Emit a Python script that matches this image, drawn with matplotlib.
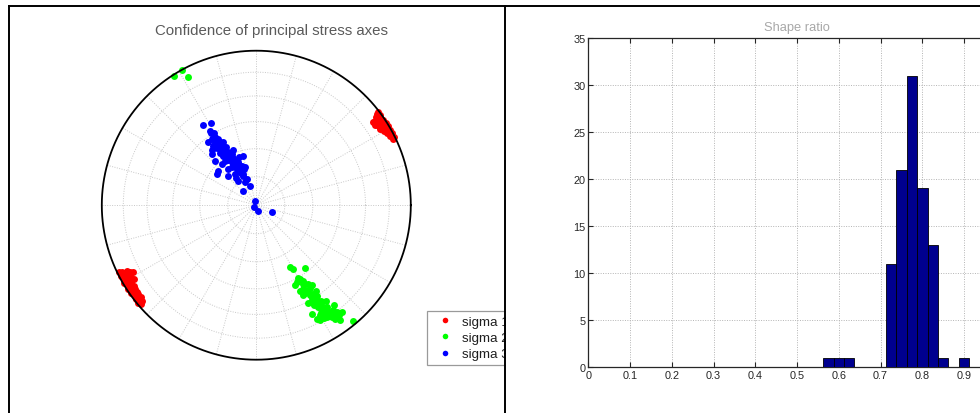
import numpy as np
import matplotlib
matplotlib.use("Agg")
import matplotlib.pyplot as plt
from matplotlib.lines import Line2D
from matplotlib.patches import Rectangle

plt.rcParams['font.family'] = ['Liberation Sans', 'DejaVu Sans']

# ---- principal stress axes (trend, plunge in degrees) ----
sigma1_trend = [52.5, 53, 53.5, 54, 54.5, 54.5, 55, 55.5, 56, 56, 56.5, 57, 57.5, 57.5,
                58, 58.4, 59, 59, 59.6, 60, 60.5, 61, 61.5, 62, 62.5, 63, 63.5, 64,
                244, 243.5, 243, 242.5, 242, 241.5, 241.5, 241, 240.5, 240, 239.5, 239,
                239, 238.5, 238, 237.5, 237, 236.5, 236, 235.5, 235, 234.5, 234, 233.5,
                233, 232, 231.5, 231, 230.5, 230, 229.5]
sigma1_plunge = [0.5, 2.5, 4.5, 1, 6.5, 8.2, 3, 5.5, 8.3, 1.5, 7, 4, 0.5, 6,
                 2.5, 6.6, 4.5, 1, 5, 3, 1, 4, 2, 0.5, 3, 1.5, 0.5, 2,
                 1, 3.5, 6.5, 1.5, 8, 10, 4.5, 2, 7, 5, 1, 8.5,
                 3, 5.5, 2, 4.5, 1, 6, 3, 5, 1.5, 4, 5.5, 2.5,
                 4.5, 1.5, 5, 3, 1, 4, 2]

sigma2_trend = [331.3, 327.6, 332.1,
                151.4, 149.8, 142.2, 149.3, 152.25, 154.2, 149.4, 146.5, 145.3, 150.2,
                149.1, 152.45, 149.2, 148.15, 149.8, 147.6, 149.2, 147.1, 148.7, 146.65,
                148.1, 146.2, 146, 144.2, 143, 145.6, 142.9, 141.4, 152, 151, 147.8,
                145.3, 144, 140.2, 148, 150, 147, 149, 146, 151, 148,
                150, 148, 151, 147, 149, 150, 146, 148, 145, 147, 144, 146, 149, 143, 150,
                153, 145, 152, 144, 153, 142]
sigma2_plunge = [0, 1.1, 6.8,
                 52.4, 50.7, 47.3, 43.9, 43.2, 42.0, 40.7, 39.0, 37.1, 36.7,
                 34.8, 34.6, 32.6, 30.7, 29.5, 27.9, 26.7, 25.1, 23.9, 22.2,
                 21.0, 19.3, 17.8, 15.9, 14.5, 14.7, 13.0, 12.5, 17.9, 16.0, 15.6,
                 11.6, 8.7, 2.8, 33, 28, 24, 20, 30, 38, 40,
                 45, 42, 35, 36, 31, 26, 26, 22, 21, 18, 17, 14, 16, 12, 19,
                 38, 33, 29, 24, 22, 19]

sigma3_trend = [326.6, 331.1, 328.1, 326, 328.7, 328.5, 328.2, 324.2, 327.9, 327.6,
                330.8, 332.1, 334.4, 328.2, 326.2, 330.4, 332.7, 332.7, 337.3, 339.7,
                345.3, 343.4, 331.5, 333.7, 336.2, 339.9, 342.1, 318.2, 316.5, 312.2,
                308.3, 318.9, 317.2, 320, 327, 325.7, 323.7, 333.8, 322.6, 324.9,
                347.4, 227.6, 159.9, 114.8,
                329, 331, 335, 327, 333, 325, 338, 330,
                330, 328, 326, 332, 329, 331, 327, 333, 330, 328, 334, 331, 329, 336,
                332, 335, 338, 330, 325, 333,
                321, 337, 322, 340, 324, 341]
sigma3_plunge = [37.7, 39.3, 42.6, 47.1, 47.4, 49.5, 51.5, 50.7, 53.5, 55.6,
                 55.7, 58.2, 59.9, 60.1, 58.4, 61.8, 63.5, 65.5, 65.4, 67.8,
                 62.9, 69.2, 68.3, 70.6, 73.0, 75.3, 79.2, 79.8, 68.6, 62.8,
                 63.3, 53.8, 57.7, 61.5, 66.2, 70.1, 74.0, 76.6, 47.6, 61.2,
                 87.6, 88.4, 86.9, 81.1,
                 57, 61, 64, 53, 67, 56, 69, 49,
                 45, 44, 50, 52, 54, 56, 58, 59, 60, 62, 62, 64, 66, 66,
                 68, 71, 72, 51, 53, 55,
                 52, 58, 66, 63, 72, 70]

series_labels = ['sigma 1', 'sigma 2', 'sigma 3']
series_colors = ['#ff0000', '#00ff00', '#0000ff']

# ---- shape ratio histogram ----
bin_centers = [0.575, 0.600, 0.625, 0.650, 0.675, 0.700, 0.725,
               0.750, 0.775, 0.800, 0.825, 0.850, 0.875, 0.900]
bin_counts = [1, 1, 1, 0, 0, 0, 11, 21, 31, 19, 13, 1, 0, 1]
bin_width = 0.025
x_ticks = [0, 0.1, 0.2, 0.3, 0.4, 0.5, 0.6, 0.7, 0.8, 0.9, 1.0]
x_tick_labels = ['0', '0.1', '0.2', '0.3', '0.4', '0.5', '0.6', '0.7', '0.8', '0.9', '']
y_ticks = [0, 5, 10, 15, 20, 25, 30, 35]


def equal_area(trend, plunge):
    """Lower-hemisphere Schmidt (equal-area) projection onto the unit circle."""
    t = np.radians(np.asarray(trend, dtype=float))
    p = np.radians(np.asarray(plunge, dtype=float))
    r = np.sqrt(2.0) * np.sin((np.pi / 2 - p) / 2)
    return r * np.sin(t), r * np.cos(t)


W, H = 980, 414
fig = plt.figure(figsize=(W / 100, H / 100), dpi=100)
fig.patch.set_facecolor('white')


def fx(px):
    return px / W


def fy(py):
    return 1 - py / H


# ---------------- stereonet ----------------
cx, cy, R = 256.3, 206.2, 154.5
lim = 1.05
side = 2 * lim * R
ax = fig.add_axes([fx(cx - side / 2), fy(cy + side / 2), side / W, side / H])
ax.set_xlim(-lim, lim)
ax.set_ylim(-lim, lim)
ax.set_aspect('equal')
ax.axis('off')

grid_kw = dict(color='#c8c8c8', lw=0.7, ls=(0, (1, 1.5)), zorder=1)
phi = np.linspace(0, 2 * np.pi, 361)
for pl in [15, 30, 45, 60, 75]:
    rr = np.sqrt(2.0) * np.sin(np.radians(90 - pl) / 2)
    ax.plot(rr * np.cos(phi), rr * np.sin(phi), **grid_kw)
for az in range(0, 360, 15):
    a = np.radians(az)
    ax.plot([0, np.sin(a)], [0, np.cos(a)], **grid_kw)

handles = []
for tr, pl, lab, col in zip([sigma1_trend, sigma2_trend, sigma3_trend],
                            [sigma1_plunge, sigma2_plunge, sigma3_plunge],
                            series_labels, series_colors):
    x, y = equal_area(tr, pl)
    h, = ax.plot(x, y, 'o', ms=5.0, mec='none', mfc=col, label=lab, zorder=2,
                 clip_on=False)
    handles.append(h)

ax.plot(np.cos(phi), np.sin(phi), color='black', lw=1.3, zorder=3, clip_on=False)

fig.text(fx(271.7), fy(30.7), 'Confidence of principal stress axes',
         ha='center', va='center', fontsize=10.8, color='#5a5a5a')

leg = ax.legend(handles=handles, loc='upper left',
                bbox_to_anchor=(fx(427), fy(311.7)), bbox_transform=fig.transFigure,
                borderaxespad=0, fontsize=9.6, frameon=True, fancybox=False,
                edgecolor='#9a9a9a', framealpha=1, borderpad=0.35,
                handlelength=2.0, handletextpad=0.3, labelspacing=0.3,
                numpoints=1, markerscale=0.8)
leg.get_frame().set_linewidth(0.9)
for t in leg.get_texts():
    t.set_color('#1e1e1e')

# ---------------- histogram ----------------
axl, axr = 588.3, 1005.8
axt, axb = 39.0, 368.0
hx = fig.add_axes([fx(axl), fy(axb), (axr - axl) / W, (axb - axt) / H])
left_edges = np.array(bin_centers) - bin_width / 2
hx.bar(left_edges, bin_counts, width=bin_width, align='edge',
       color='#00008f', edgecolor='black', linewidth=0.6, zorder=3)
hx.set_xlim(0, 1)
hx.set_ylim(0, 35)
hx.set_xticks(x_ticks)
hx.set_xticklabels(x_tick_labels)
hx.set_yticks(y_ticks)
hx.grid(True, color='#b4b4b4', ls=(0, (1, 1.5)), lw=0.7, zorder=0)
hx.set_axisbelow(True)
hx.tick_params(direction='in', length=3.5, width=0.8, top=True, right=True,
               labelsize=7.8, labelcolor='#262626', pad=2.0, color='#262626')
for s in hx.spines.values():
    s.set_linewidth(0.9)
    s.set_color('#262626')
hx.set_title('Shape ratio', fontsize=9.3, color='#a8a8a8', pad=6)

# ---------------- panel frames ----------------
fig.patches.append(Rectangle((fx(505.5), fy(372)), fx(560) - fx(505.5),
                             fy(300) - fy(372), transform=fig.transFigure,
                             facecolor='white', edgecolor='none', zorder=5))
frame_kw = dict(color='black', lw=1.4, transform=fig.transFigure, zorder=6)
fig.add_artist(Line2D([fx(9.3), 1], [fy(7.3), fy(7.3)], **frame_kw))
fig.add_artist(Line2D([fx(9.3), fx(9.3)], [fy(7.3), 0], **frame_kw))
fig.add_artist(Line2D([fx(504.8), fx(504.8)], [fy(7.3), 0], **frame_kw))

fig.savefig('out.png', dpi=100, facecolor='white')
